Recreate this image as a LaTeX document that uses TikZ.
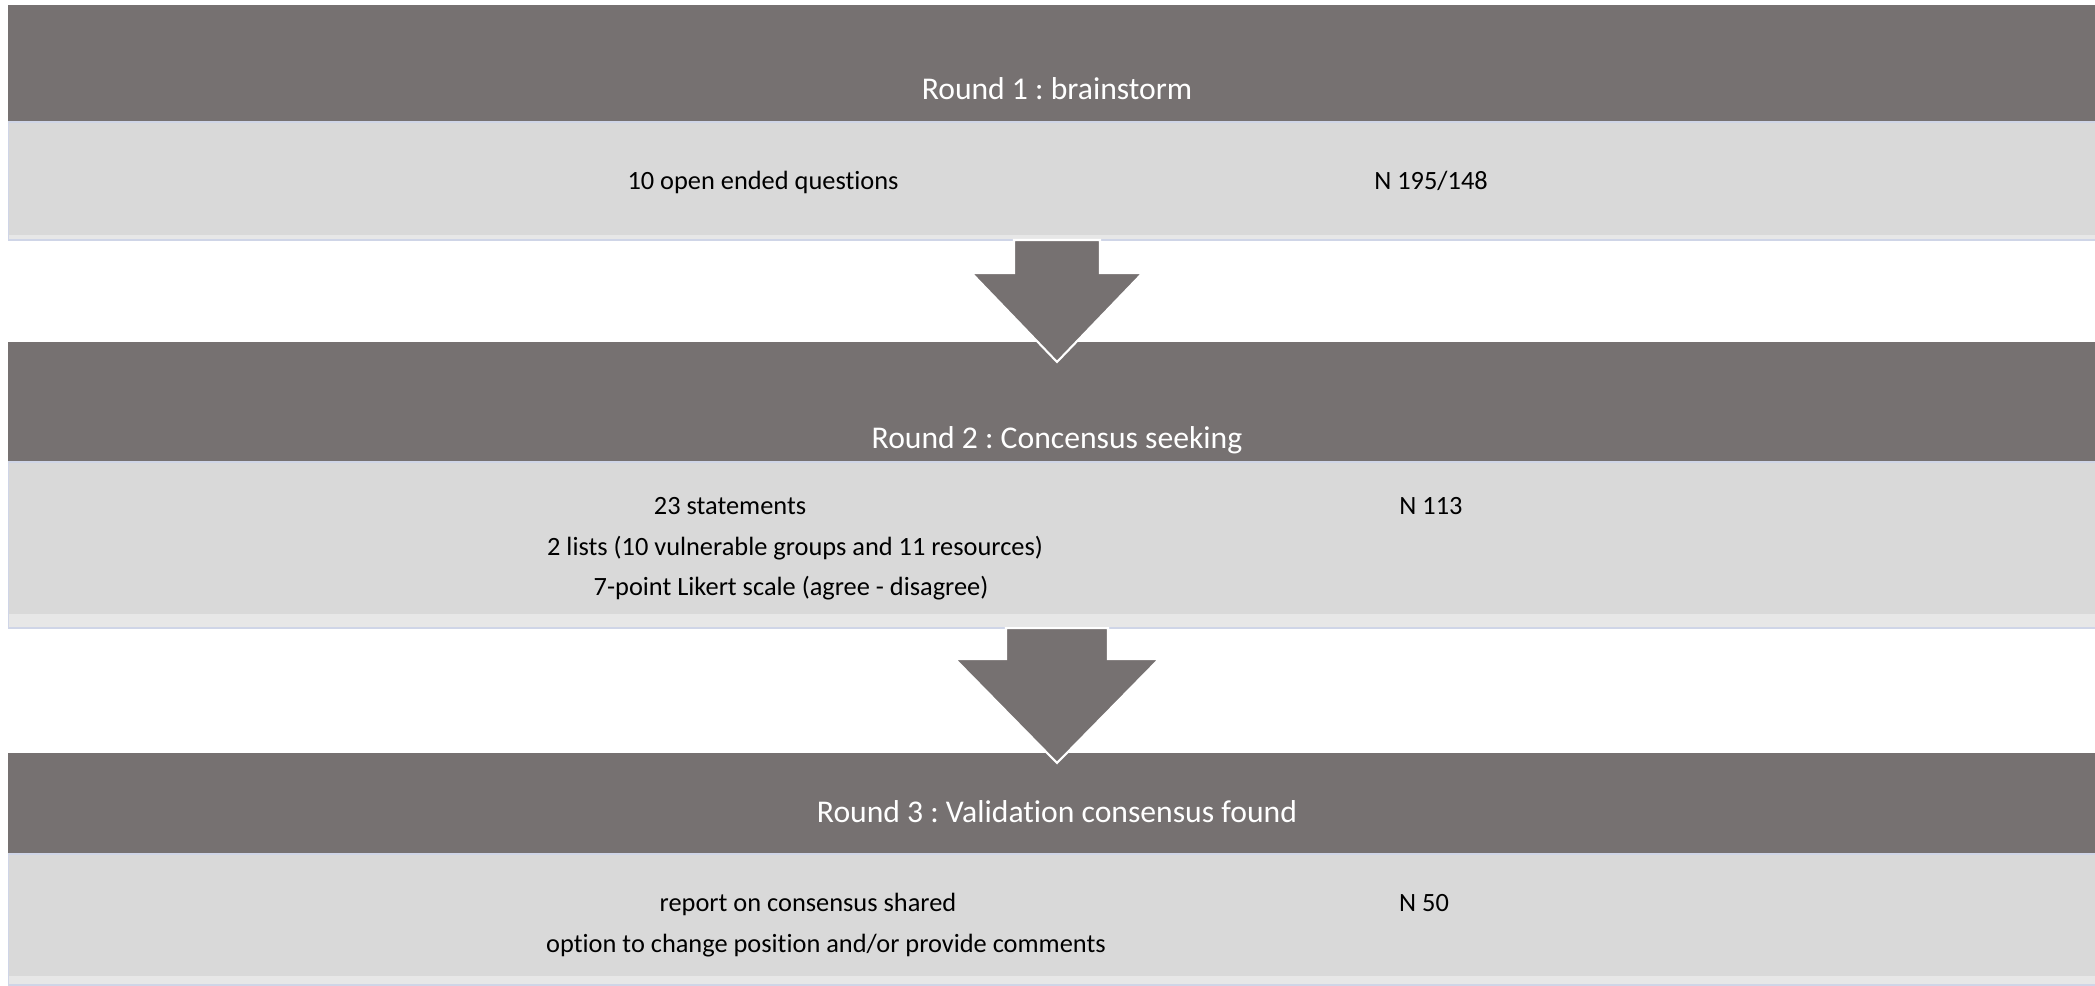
\documentclass[tikz,border=0pt]{standalone}
\usepackage{fontspec}
\setmainfont{Carlito}[Ligatures=NoCommon]
\usepackage{tikz}
\usetikzlibrary{calc}
\frenchspacing
\definecolor{bargray}{RGB}{118,113,113}
\definecolor{bodygray}{RGB}{217,217,217}
\definecolor{stripgray}{RGB}{231,231,231}
\definecolor{edgeblue}{RGB}{207,213,231}

\tikzset{
  titlebar/.style={fill=bargray, minimum width=20.96cm, inner sep=0, outer sep=0},
  bodybar/.style={fill=bodygray, draw=edgeblue, line width=0.4pt, minimum width=20.96cm, inner sep=0, outer sep=0},
  titletext/.style={text=white, font=\fontsize{9}{11}\selectfont, inner sep=0},
  bodytext/.style={text=black, font=\fontsize{7.5}{9}\selectfont, inner sep=0, text height=1.4ex, text depth=.3ex},
  bigarrow/.style={fill=bargray, draw=white, line width=0.6pt, line join=miter}
}

\begin{document}
\begin{tikzpicture}[x=0.01cm, y=-0.01cm]
\clip (0,0) rectangle (2095,985);
\fill[white] (0,0) rectangle (2095,985);
% Bands: title bar and body of each round
\foreach \i/\ty/\th/\by/\bh/\sh in {1/63/1.16cm/181/1.18cm/5, 2/402/1.20cm/545/1.66cm/14, 3/803.5/1.01cm/919.5/1.31cm/9} {
  \node[titlebar, minimum height=\th] (t\i) at (1057,\ty) {};
  \node[bodybar, minimum height=\bh] (b\i) at (1057,\by) {};
  \fill[stripgray] ($(b\i.south west)+(1,-1)$) rectangle ($(b\i.south east)+(-1,-\sh)$);
}
% Arrows between rounds
\draw[bigarrow] ($(b1.south)+(-43,0)$) -- ++(0,33) -- ++(-42.5,0) -- ($(t2.north)+(0,20)$)
  -- ($(b1.south)+(85.5,33)$) -- ++(-42.5,0) -- ($(b1.south)+(43,0)$) -- cycle;
\draw[bigarrow] ($(b2.south)+(-51,0)$) -- ++(0,31) -- ++(-51,0) -- ($(t3.north)+(0,10)$)
  -- ($(b2.south)+(102,31)$) -- ++(-51,0) -- ($(b2.south)+(51,0)$) -- cycle;
% Round 1
\node[titletext] (r1title) at (1057,89) {Round 1 : brainstorm};
\node[bodytext] (r1q) at (763,180) {10 open ended questions};
\node[bodytext] (r1n) at (1431,180) {N 195/148};
% Round 2
\node[titletext] (r2title) at (1057,440) {Round 2 : Concensus seeking};
\node[bodytext] (r2a) at (730,505) {23 statements};
\node[bodytext] (r2b) at (795,546) {2 lists (10 vulnerable groups and 11 resources)};
\node[bodytext] (r2c) at (791,586) {7-point Likert scale (agree - disagree)};
\node[bodytext] (r2n) at (1431,505) {N 113};
% Round 3
\node[titletext] (r3title) at (1057,812) {Round 3 : Validation consensus found};
\node[bodytext] (r3a) at (808,902) {report on consensus shared};
\node[bodytext] (r3b) at (826,943) {option to change position and/or provide comments};
\node[bodytext] (r3n) at (1424,902) {N 50};
\end{tikzpicture}
\end{document}
